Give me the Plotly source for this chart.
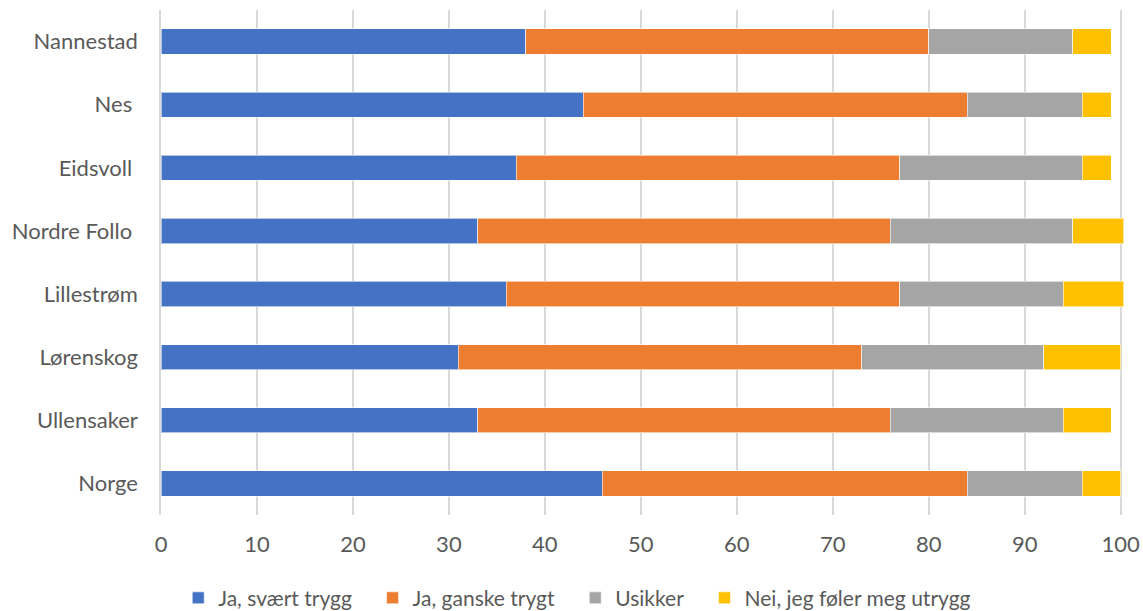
import plotly.graph_objs as go

kommuner = ["Nannestad", "Nes\u00a0", "Eidsvoll\u00a0", "Nordre Follo\u00a0", "Lillestrøm",
            "Lørenskog", "Ullensaker", "Norge"]

svaert_trygg = [38, 44, 37, 33, 36, 31, 33, 46]
ganske_trygt = [42, 40, 40, 43, 41, 42, 43, 38]
usikker = [15, 12, 19, 19, 17, 19, 18, 12]
utrygg = [4, 3, 3, 5.3, 6.3, 8, 5, 4]

serier = [
    ("Ja, svært trygg", svaert_trygg, "#4472C4"),
    ("Ja, ganske trygt", ganske_trygt, "#ED7D31"),
    ("Usikker", usikker, "#A5A5A5"),
    ("Nei, jeg føler meg utrygg", utrygg, "#FFC000"),
]

FONT = "Lato, 'Open Sans', sans-serif"

fig = go.Figure()
for i, (navn, verdier, farge) in enumerate(serier):
    # em space after the label widens the gap between legend entries
    label = navn if i == len(serier) - 1 else navn + "\u2003"
    fig.add_trace(go.Bar(
        y=kommuner,
        x=verdier,
        name=label,
        orientation="h",
        marker=dict(color=farge, line=dict(color="rgba(255,255,255,0.6)", width=1)),
    ))

fig.update_layout(
    barmode="stack",
    bargap=0.6,
    width=1143,
    height=611,
    margin=dict(l=161, r=18.6, t=10, b=96, pad=0),
    plot_bgcolor="white",
    paper_bgcolor="white",
    font=dict(family=FONT, size=22, color="#595959"),
    legend=dict(
        orientation="h",
        xref="container", x=0.505, xanchor="center",
        yref="container", y=0.021, yanchor="middle",
        font=dict(size=21, color="#595959"),
        itemwidth=30,
        traceorder="normal",
    ),
)

fig.update_xaxes(
    range=[0, 100.35],
    tickvals=list(range(0, 101, 10)),
    showgrid=True,
    gridcolor="#D9D9D9",
    gridwidth=1.5,
    zeroline=False,
    showline=False,
    ticks="",
    ticklabelstandoff=14,
    automargin=False,
)
fig.update_yaxes(
    autorange="reversed",
    showline=True,
    linecolor="#D9D9D9",
    linewidth=1.5,
    ticks="",
    ticklabelstandoff=17,
    automargin=False,
)

# drop the default body margin so the figure fills the window exactly
fig.write_html("out.html",
               config={"displayModeBar": False},
               post_script="document.body.style.margin='0';document.body.style.overflow='hidden';")
